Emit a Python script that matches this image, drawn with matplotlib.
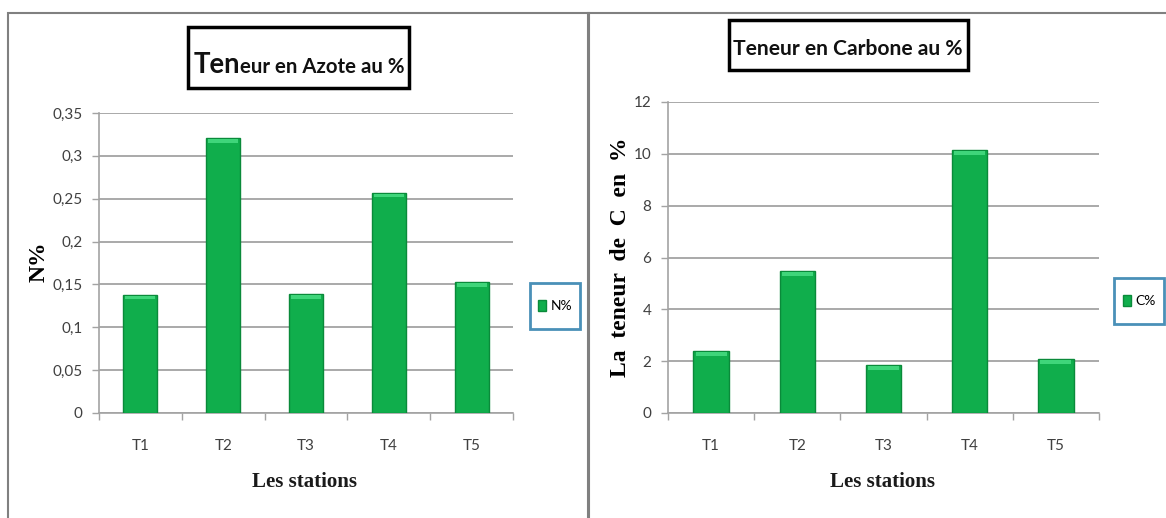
import matplotlib
matplotlib.use('Agg')
import matplotlib.pyplot as plt
from matplotlib.patches import Rectangle
import numpy as np

# ---------------- data ----------------
stations = ['T1', 'T2', 'T3', 'T4', 'T5']
azote = [0.138, 0.321, 0.139, 0.257, 0.153]
carbone = [2.39, 5.48, 1.85, 10.15, 2.08]
azote_ticks = [0, 0.05, 0.1, 0.15, 0.2, 0.25, 0.3, 0.35]
azote_tick_labels = ['0', '0,05', '0,1', '0,15', '0,2', '0,25', '0,3', '0,35']
carbone_ticks = [0, 2, 4, 6, 8, 10, 12]
carbone_tick_labels = ['0', '2', '4', '6', '8', '10', '12']
title_n_big = 'Ten'
title_n_rest = 'eur en Azote au %'
title_c = 'Teneur en Carbone au %'
ylabel_n = 'N%'
ylabel_c = 'La  teneur  de  C  en  %'
xlabel = 'Les stations'
legend_n = 'N%'
legend_c = 'C%'

W, H = 1166, 518
fig = plt.figure(figsize=(W / 100, H / 100), dpi=100)
fig.patch.set_facecolor('white')

SANS = ['Lato', 'Roboto', 'DejaVu Sans']
SERIF = ['Liberation Serif', 'DejaVu Serif']
BAR = '#10AE4C'
BAR_EDGE = '#0A8A3A'
BAR_HL = '#3FD57A'
GRID = '#A3A3A3'
TICKC = '#404040'


def fx(px):
    return px / W


def fy(py):
    return 1 - py / H


def frect(x0, y0, x1, y1, **kw):
    r = Rectangle((fx(x0), fy(y1)), fx(x1) - fx(x0), (y1 - y0) / H,
                  transform=fig.transFigure, fill=False, **kw)
    fig.add_artist(r)
    return r


renderer = fig.canvas.get_renderer()


def fit_width(t, target):
    w = t.get_window_extent(renderer).width
    t.set_fontsize(t.get_fontsize() * target / w)
    return t


# panel frames
frect(8, 13, 589, 540, edgecolor='#808080', linewidth=1.5)
frect(588, 13, 1180, 540, edgecolor='#808080', linewidth=1.5)


def style(ax, values, ticks, labels, ymax, leg_label):
    x = np.arange(len(stations))
    ax.bar(x, values, width=0.41, color=BAR, edgecolor=BAR_EDGE,
           linewidth=1.0, zorder=3, label=leg_label)
    hl = ymax * 0.012
    ax.bar(x, [hl] * len(values), bottom=np.array(values) - hl * 1.3,
           width=0.36, color=BAR_HL, linewidth=0, zorder=4)
    ax.set_xlim(-0.5, len(stations) - 0.5)
    ax.set_ylim(0, ymax)
    ax.set_yticks(ticks)
    ax.set_yticklabels(labels)
    ax.set_xticks(x)
    ax.set_xticklabels(stations)
    ax.set_xticks(np.arange(-0.5, len(stations)), minor=True)
    ax.tick_params(axis='x', which='major', length=0, pad=19,
                   labelcolor=TICKC, labelsize=11)
    ax.tick_params(axis='x', which='minor', length=5, color=GRID, width=1)
    ax.tick_params(axis='y', length=5, color=GRID, width=1, pad=7,
                   labelcolor=TICKC, labelsize=11)
    for lab in ax.get_xticklabels() + ax.get_yticklabels():
        lab.set_fontfamily(SANS)
    ax.yaxis.grid(True, color=GRID, linewidth=1.3)
    ax.set_axisbelow(True)
    for s in ['top', 'right']:
        ax.spines[s].set_visible(False)
    for s in ['left', 'bottom']:
        ax.spines[s].set_color(GRID)
        ax.spines[s].set_linewidth(1.2)


ax1 = fig.add_axes([fx(99), fy(413), fx(513) - fx(99), (413 - 113) / H])
style(ax1, azote, azote_ticks, azote_tick_labels, 0.35, legend_n)
ax2 = fig.add_axes([fx(668), fy(413), fx(1099) - fx(668), (413 - 102) / H])
style(ax2, carbone, carbone_ticks, carbone_tick_labels, 12, legend_c)

# axis labels
fig.text(fx(39), fy(262), ylabel_n, rotation=90, ha='center', va='center',
         family=SERIF, fontweight='bold', fontsize=17, color='black')
fig.text(fx(621), fy(257), ylabel_c, rotation=90, ha='center', va='center',
         family=SERIF, fontweight='bold', fontsize=17, color='black')
fig.text(fx(305), fy(482), xlabel, ha='center', va='center',
         family=SERIF, fontweight='bold', fontsize=15, color='#1a1a1a')
fig.text(fx(882), fy(482), xlabel, ha='center', va='center',
         family=SERIF, fontweight='bold', fontsize=15, color='#1a1a1a')

# legends
frect(530, 283, 580, 329, edgecolor='#4A90B8', linewidth=2)
frect(1114, 278, 1164, 324, edgecolor='#4A90B8', linewidth=2)
for ax, cx, cy in [(ax1, 555, 306), (ax2, 1139, 301)]:
    h, l = ax.get_legend_handles_labels()
    fig.legend(h, l, loc='center', bbox_to_anchor=(fx(cx), fy(cy)),
               frameon=False, handlelength=0.6, handleheight=0.9,
               handletextpad=0.3, borderpad=0.2,
               prop={'family': SANS, 'size': 10})

# titles
frect(188, 27, 409, 88, edgecolor='black', linewidth=2.5)
t_big = fig.text(fx(194), fy(73), title_n_big, ha='left', va='baseline',
                 family=SANS, fontweight='bold', fontsize=23, color='#111111')
t_rest = fig.text(fx(194), fy(73), title_n_rest, ha='left', va='baseline',
                  family=SANS, fontweight='bold', fontsize=17, color='#111111')
wb = t_big.get_window_extent(renderer).width
wr = t_rest.get_window_extent(renderer).width
scale = 211 / (wb + wr)
t_big.set_fontsize(23 * scale)
t_rest.set_fontsize(17 * scale)
wb = t_big.get_window_extent(renderer).width
t_rest.set_x(fx(194 + wb))

frect(729, 20, 968, 70, edgecolor='black', linewidth=2.5)
tc = fig.text(fx(848), fy(55), title_c, ha='center', va='baseline',
              family=SANS, fontweight='bold', fontsize=18, color='#111111')
fit_width(tc, 229)

fig.savefig('out.png', dpi=100, facecolor='white')
